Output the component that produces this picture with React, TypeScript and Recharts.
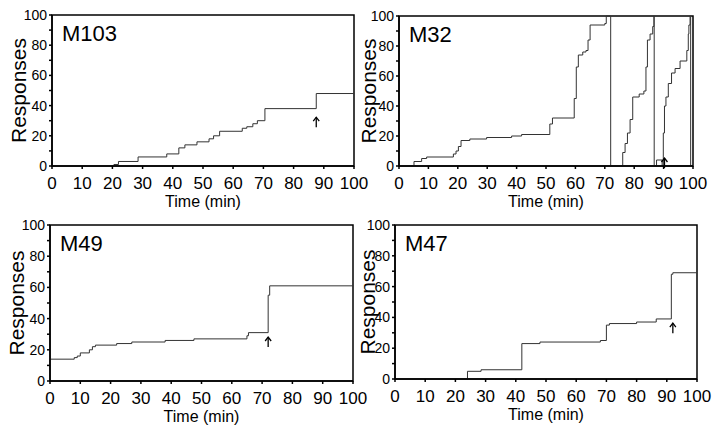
import React from 'react';
import { LineChart, Line, XAxis, YAxis, ReferenceArea, ReferenceDot } from 'recharts';

const xTicks = [0, 10, 20, 30, 40, 50, 60, 70, 80, 90, 100];
const yTicks = [0, 10, 20, 30, 40, 50, 60, 70, 80, 90, 100];

// cumulative records: time (min) / responses
const m103Time = [0, 20.5, 22, 28.5, 38, 42, 44, 48, 52, 53.5, 55.5, 63, 64.5, 66.5, 68, 70.5, 87.5, 100];
const m103Resp = [0, 1, 3, 6, 8, 12, 14, 16, 18, 20, 23, 25, 26, 28, 30, 38, 48, 48];

const m32Time = [
  0, 5.1, 7.7, 9.4, 18.5, 19.4, 20.2, 21.1, 24.1, 29.8, 38.3, 41.7, 51.3, 52.2,
  59.6, 60.3, 61, 62.5, 63.6, 64.3, 65, 70, 70.5, 72, 72,
  75.4, 76.1, 76.9, 77.7, 78.6, 79.5, 81.7, 83.3, 84, 84.5, 85.4, 86.3, 86.7, 86.8, 86.8,
  87.6, 87.6, 89.5, 89.5, 89.9, 90.3, 90.8, 91.6, 92.7, 93.9, 95.6, 97.9, 98.4, 98.6, 99, 99.2, 99.2, 100,
];
const m32Resp = [
  0, 3, 5, 6, 8, 10, 13, 17, 18, 19, 20, 21, 28, 32,
  45, 66, 74, 76, 77, 84, 94, 95, 100, 100, 0,
  0, 9, 15, 22, 31, 46, 48, 50, 66, 84, 88, 93, 100, 100, 0,
  0, 4, 4, 0, 22, 40, 46, 55, 62, 65, 70, 77, 88, 94, 100, 100, 0, 0,
];

const m49Time = [0, 8, 9, 10, 13, 14, 15, 22, 27, 38, 47.5, 65, 65.5, 72, 72.5, 100];
const m49Resp = [14, 15, 16, 18, 20, 22, 23, 24, 25, 26, 27, 29, 31, 55, 61, 61];

const m47Time = [0, 24, 28.5, 42, 48, 68, 70, 71, 80, 86.5, 91.5, 92, 100];
const m47Resp = [0, 5, 6, 23, 24, 25, 35, 36, 37, 39, 68, 69, 69];

const toRows = (t: number[], r: number[]) => t.map((v, i) => ({ t: v, r: r[i] }));

const Arrow = (props: any) => {
  const { cx, cy } = props;
  return (
    <g stroke="#000" strokeWidth={1.3} fill="none">
      <line x1={cx} y1={cy + 5} x2={cx} y2={cy - 5} />
      <polyline points={`${cx - 3},${cy - 1} ${cx},${cy - 5} ${cx + 3},${cy - 1}`} />
    </g>
  );
};

interface PanelProps {
  title: string;
  rows: { t: number; r: number }[];
  arrow: [number, number];
  left: number;
  top: number;
  width: number;
  height: number;
  respX: number;
}

const Panel = ({ title, rows, arrow, left, top, width, height, respX }: PanelProps) => (
  <div style={{ position: 'absolute', left, top, width, height }}>
    <LineChart width={width} height={height} data={rows} margin={{ top: 15, right: 20, bottom: 6, left: 0 }}>
      <XAxis
        dataKey="t"
        type="number"
        domain={[0, 100]}
        ticks={xTicks}
        interval={0}
        allowDataOverflow
        height={44}
        tickSize={3}
        tickMargin={8}
        tick={{ fontSize: 17, fill: '#000' }}
        stroke="#000"
        strokeWidth={1.5}
        label={{ value: 'Time (min)', position: 'insideBottom', offset: 3, fontSize: 16, fill: '#000' }}
      />
      <YAxis
        type="number"
        domain={[0, 100]}
        ticks={yTicks}
        interval={0}
        width={52}
        tickSize={3}
        tickMargin={2}
        tickFormatter={(v: number) => (v % 20 === 0 ? String(v) : '')}
        tick={{ fontSize: 14, fill: '#000' }}
        stroke="#000"
        strokeWidth={1.5}
        label={{
          value: 'Responses',
          angle: -90,
          position: 'insideLeft',
          offset: respX,
          fontSize: 21,
          fill: '#000',
          style: { textAnchor: 'middle' },
        }}
      />
      <ReferenceArea
        x1={0}
        x2={100}
        y1={0}
        y2={100}
        fill="none"
        stroke="#000"
        strokeWidth={1.5}
        label={{ value: title, position: 'insideTopLeft', offset: 10, fontSize: 22, fill: '#000' }}
      />
      <Line type="stepAfter" dataKey="r" stroke="#333" strokeWidth={1} dot={false} isAnimationActive={false} />
      <ReferenceDot x={arrow[0]} y={arrow[1]} r={0} shape={Arrow} />
    </LineChart>
  </div>
);

export default function App() {
  return (
    <div
      style={{
        position: 'absolute',
        left: 0,
        top: 0,
        width: 720,
        height: 429,
        background: '#fff',
        fontFamily: "'Liberation Sans', Arial, sans-serif",
      }}
    >
      <Panel title="M103" rows={toRows(m103Time, m103Resp)} arrow={[87.5, 29]} left={0} top={0} width={374} height={216} respX={19} />
      <Panel title="M32" rows={toRows(m32Time, m32Resp)} arrow={[90.3, 2]} left={347} top={1} width={366} height={215} respX={22} />
      <Panel title="M49" rows={toRows(m49Time, m49Resp)} arrow={[72, 25]} left={-2} top={210} width={375} height={221} respX={19} />
      <Panel title="M47" rows={toRows(m47Time, m47Resp)} arrow={[92, 33]} left={343} top={210} width={374} height={219} respX={25} />
    </div>
  );
}
